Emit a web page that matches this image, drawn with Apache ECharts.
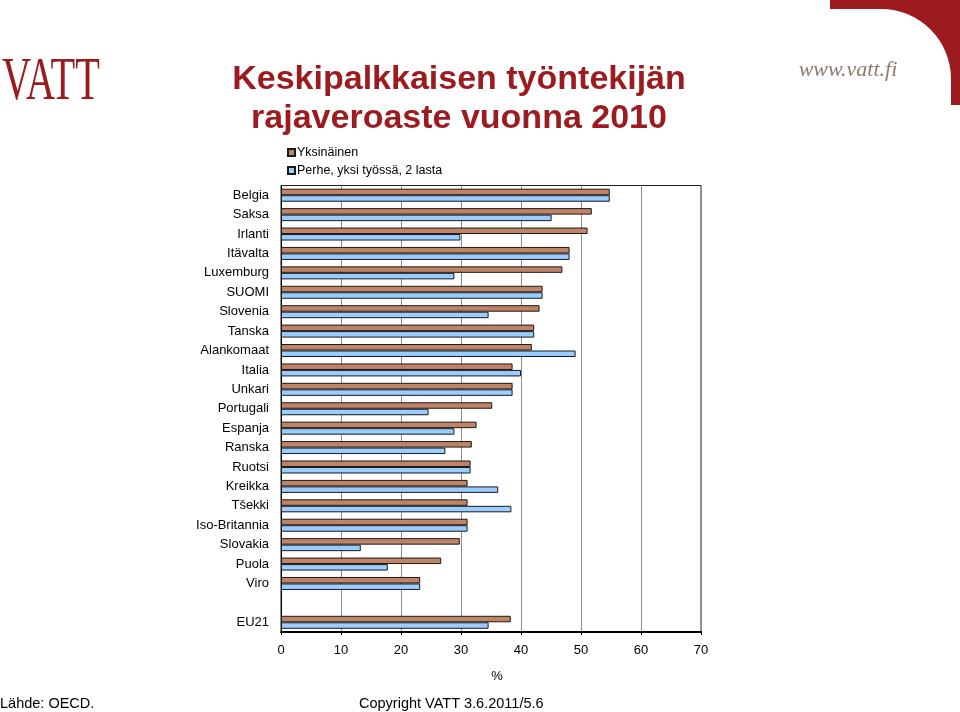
<!DOCTYPE html>
<html>
<head>
<meta charset="utf-8">
<script src="https://cdn.jsdelivr.net/npm/echarts@6/dist/echarts.min.js"></script>
<style>
html,body{margin:0;padding:0;background:#fff;}
#chart{width:960px;height:712px;}
</style>
</head>
<body>
<div id="chart"></div>
<script>
const categories = ['Belgia','Saksa','Irlanti','Itävalta','Luxemburg','SUOMI','Slovenia','Tanska','Alankomaat','Italia','Unkari','Portugali','Espanja','Ranska','Ruotsi','Kreikka','Tšekki','Iso-Britannia','Slovakia','Puola','Viro','','EU21'];
const yksinainen = [54.8,51.8,51.1,48.1,46.9,43.6,43.1,42.2,41.8,38.6,38.6,35.2,32.6,31.8,31.6,31.1,31.1,31.1,29.8,26.7,23.2,null,38.3];
const perhe = [54.8,45.1,29.9,48.1,28.9,43.6,34.6,42.2,49.1,40.0,38.6,24.6,28.9,27.4,31.6,36.2,38.4,31.1,13.3,17.8,23.2,null,34.6];
const seriesNames = ['Yksinäinen','Perhe, yksi työssä, 2 lasta'];
const xTicks = [0,70,10];
const titleLines = ['Keskipalkkaisen työntekijän','rajaveroaste vuonna 2010'];

const FONT = '"Liberation Sans", Arial, Helvetica, sans-serif';
const RED = '#9b1b1f';
const chart = echarts.init(document.getElementById('chart'), null, {renderer:'canvas'});
chart.setOption({
  animation:false,
  backgroundColor:'#fff',
  textStyle:{fontFamily:FONT},
  grid:{left:281,right:259,top:185.5,bottom:80,show:true,borderColor:'#222',borderWidth:1,backgroundColor:'transparent'},
  legend:{
    orient:'vertical', left:282, top:141, itemGap:5,
    itemWidth:7, itemHeight:7, icon:'rect',
    textStyle:{fontFamily:FONT,fontSize:12.5,color:'#000',padding:[0,0,0,-3]},
    data:seriesNames
  },
  xAxis:{
    type:'value', min:xTicks[0], max:xTicks[1], interval:xTicks[2],
    axisLine:{show:true,lineStyle:{color:'#000',width:2}},
    axisTick:{show:true,length:3,lineStyle:{color:'#000'}},
    axisLabel:{fontFamily:FONT,fontSize:13,color:'#000',margin:12},
    splitLine:{show:true,lineStyle:{color:'#8c8c8c',width:1}}
  },
  yAxis:{
    type:'category', data:categories, inverse:true,
    axisLine:{show:true,lineStyle:{color:'#000',width:1}},
    axisTick:{show:false},
    axisLabel:{fontFamily:FONT,fontSize:13,color:'#000',margin:12,interval:0},
    splitLine:{show:false}
  },
  series:[
    {name:seriesNames[0],type:'bar',data:yksinainen,barWidth:6.5,barGap:'0%',
     itemStyle:{color:'#c08365',borderColor:'#1a1a1a',borderWidth:1}},
    {name:seriesNames[1],type:'bar',data:perhe,barWidth:6.5,barGap:'0%',
     itemStyle:{color:'#99ccff',borderColor:'#1a1a1a',borderWidth:1}}
  ],
  graphic:[
    {type:'text',x:459,y:80,style:{text:titleLines[0],fill:RED,font:'bold 34px '+FONT,textAlign:'center',textVerticalAlign:'middle'}},
    {type:'text',x:459,y:119,style:{text:titleLines[1],fill:RED,font:'bold 34px '+FONT,textAlign:'center',textVerticalAlign:'middle'}},
    {type:'text',x:2,y:83,scaleX:0.65,style:{text:'VATT',fill:RED,font:'62px "Liberation Serif","DejaVu Serif",serif',textAlign:'left',textVerticalAlign:'middle'}},
    {type:'rect',shape:{x:830,y:0,width:130,height:105},style:{fill:RED}},
    {type:'rect',shape:{x:820,y:9,width:131,height:100,r:[0,70,0,0]},style:{fill:'#fff'}},
    {type:'text',x:848,y:70,style:{text:'www.vatt.fi',fill:'#8d7b70',font:'italic 22px "Liberation Serif","DejaVu Serif",serif',textAlign:'center',textVerticalAlign:'middle'}},
    {type:'text',x:497,y:676,style:{text:'%',fill:'#000',font:'13px '+FONT,textAlign:'center',textVerticalAlign:'middle'}},
    {type:'text',x:0,y:704,style:{text:'Lähde: OECD.',fill:'#000',font:'14.5px '+FONT,textAlign:'left',textVerticalAlign:'middle'}},
    {type:'text',x:359,y:704,style:{text:'Copyright VATT 3.6.2011/5.6',fill:'#000',font:'14.5px '+FONT,textAlign:'left',textVerticalAlign:'middle'}}
  ]
});
</script>
</body>
</html>
